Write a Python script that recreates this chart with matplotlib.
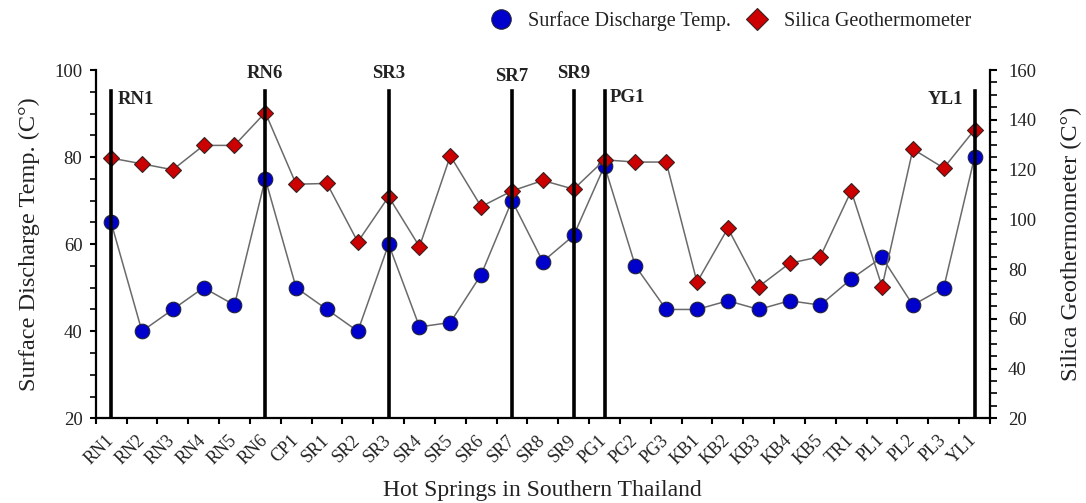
import matplotlib
matplotlib.use('Agg')
import matplotlib.pyplot as plt
from matplotlib.ticker import MultipleLocator, FixedLocator
from matplotlib.lines import Line2D
from matplotlib.transforms import ScaledTranslation
import numpy as np

sites = ['RN1', 'RN2', 'RN3', 'RN4', 'RN5', 'RN6', 'CP1', 'SR1', 'SR2', 'SR3',
         'SR4', 'SR5', 'SR6', 'SR7', 'SR8', 'SR9', 'PG1', 'PG2', 'PG3', 'KB1',
         'KB2', 'KB3', 'KB4', 'KB5', 'TR1', 'PL1', 'PL2', 'PL3', 'YL1']
surface_temp = [65, 40, 45, 50, 46, 75, 50, 45, 40, 60,
                41, 42, 53, 70, 56, 62, 78, 55, 45, 45,
                47, 45, 47, 46, 52, 57, 46, 50, 80]
silica_temp = [124.6, 122.3, 119.9, 129.7, 129.7, 142.9, 114.1, 114.4, 90.9, 109.1,
               89.0, 125.5, 105.1, 111.4, 115.6, 112.1, 123.9, 123.0, 123.0, 74.7,
               96.4, 72.9, 82.3, 85.0, 111.4, 72.9, 128.2, 120.6, 136.0]
marked_sites = ['RN1', 'RN6', 'SR3', 'SR7', 'SR9', 'PG1', 'YL1']

plt.rcParams['font.family'] = ['Liberation Serif', 'DejaVu Serif']
txt_color = '#222222'

fig = plt.figure(figsize=(10.86, 5.03), dpi=100)
ax = fig.add_axes([0.0881, 0.1684, 0.8235, 0.6924])
ax2 = ax.twinx()

x = np.arange(len(sites))
ax.set_xlim(-0.5, len(sites) - 0.5)
ax.set_ylim(20, 100)
ax2.set_ylim(20, 160)

line_col = '#6a6a6a'
ax.plot(x, surface_temp, color=line_col, lw=1.1, marker='o', ms=10.5,
        mfc='#0000CC', mec='#20203a', mew=0.8, zorder=3, clip_on=False)
ax2.plot(x, silica_temp, color=line_col, lw=1.1, marker='D', ms=8.5,
         mfc='#CC0000', mec='#3a2020', mew=0.8, zorder=3, clip_on=False)

# vertical markers for selected sites
top_frac = (95.2 - 20) / 80
for s in marked_sites:
    i = sites.index(s)
    ax2.axvline(i, ymin=0, ymax=top_frac, color='black', lw=2.6, zorder=6)

label_pos = {
    'RN1': (0.22, 93.3, 'left'),
    'RN6': (0.0, 99.2, 'center'),
    'SR3': (0.0, 99.2, 'center'),
    'SR7': (0.0, 98.4, 'center'),
    'SR9': (0.0, 99.2, 'center'),
    'PG1': (0.17, 93.6, 'left'),
    'YL1': (-0.38, 93.3, 'right'),
}
for s in marked_sites:
    i = sites.index(s)
    dx, yy, ha = label_pos[s]
    ax.text(i + dx, yy, s, ha=ha, va='center', fontsize=13.5, fontweight='bold',
            color=txt_color, clip_on=False)

# spines
for a in (ax, ax2):
    a.spines['top'].set_visible(False)
ax.spines['right'].set_visible(False)
ax2.spines['left'].set_visible(False)
ax2.spines['bottom'].set_visible(False)
for sp in ('left', 'bottom'):
    ax.spines[sp].set_linewidth(1.6)
ax2.spines['right'].set_linewidth(1.6)

# x ticks: labels at centers, tick marks at boundaries
ax.set_xticks(x)
ax.set_xticklabels(sites, rotation=45, ha='right', va='center',
                   rotation_mode='anchor', fontsize=13, color=txt_color)
shift = ScaledTranslation(-5 / 100, 0, fig.dpi_scale_trans)
for lbl in ax.get_xticklabels():
    lbl.set_transform(lbl.get_transform() + shift)
ax.tick_params(axis='x', which='major', length=0, pad=14)
ax.xaxis.set_minor_locator(FixedLocator(np.arange(len(sites) + 1) - 0.5))
ax.tick_params(axis='x', which='minor', length=4.5, width=1.5, direction='out')

ax.yaxis.set_major_locator(MultipleLocator(20))
ax.yaxis.set_minor_locator(MultipleLocator(5))
ax.tick_params(axis='y', which='major', length=4.5, width=1.5, labelsize=13.5,
               labelcolor=txt_color, pad=5)
ax.tick_params(axis='y', which='minor', length=4.5, width=1.2)

ax2.yaxis.set_major_locator(MultipleLocator(20))
ax2.yaxis.set_minor_locator(MultipleLocator(5))
ax2.tick_params(axis='y', which='major', length=5, width=1.5, labelsize=13.5,
                labelcolor=txt_color, pad=8)
ax2.tick_params(axis='y', which='minor', length=5, width=1.2)

ax.set_ylabel('Surface Discharge Temp. (C°)', fontsize=17.5, color=txt_color, labelpad=10)
ax2.set_ylabel('Silica Geothermometer (C°)', fontsize=17.5, color=txt_color, labelpad=18)
ax.set_xlabel('Hot Springs in Southern Thailand', fontsize=17, color=txt_color, labelpad=9)

handles = [
    Line2D([], [], ls='none', marker='o', ms=14, mfc='#0000CC', mec='#20203a', mew=0.8),
    Line2D([], [], ls='none', marker='D', ms=11, mfc='#CC0000', mec='#3a2020', mew=0.8),
]
fig.legend(handles, ['Surface Discharge Temp.', 'Silica Geothermometer'],
           loc='center', bbox_to_anchor=(0.673, 0.958), ncol=2, frameon=False,
           fontsize=14.5, handlelength=1.0, handletextpad=0.85, columnspacing=0.8,
           labelcolor=txt_color)

fig.savefig('out.png', dpi=100)
